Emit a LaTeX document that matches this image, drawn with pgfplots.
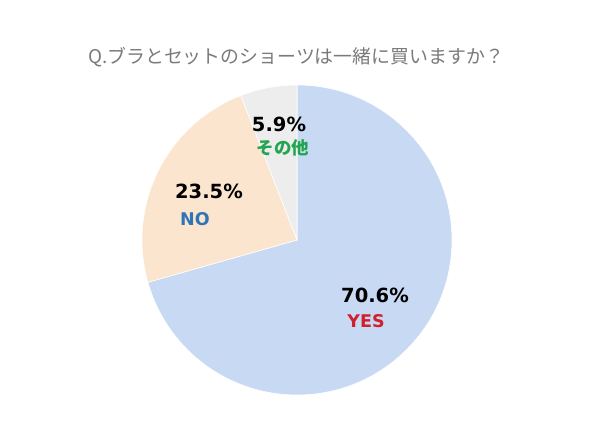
\documentclass[border=0pt]{standalone}
\usepackage{pgfplots}
\usepackage{pgfplotstable}
\pgfplotsset{compat=1.18}
\usepackage{fontspec}
\setmainfont{DejaVu Sans}
\newfontfamily\jp{Noto Sans CJK JP}
\definecolor{yesfill}{HTML}{C8D9F4}
\definecolor{nofill}{HTML}{FBE5CE}
\definecolor{othfill}{HTML}{EDEDED}
\definecolor{yestxt}{HTML}{D0202F}
\definecolor{notxt}{HTML}{2E75B6}
\definecolor{othtxt}{HTML}{22A550}
\definecolor{titletxt}{HTML}{7A7A7A}
\pgfplotstableread{
label value
YES 70.6
NO 23.5
other 5.9
}\piedata
\pgfkeys{/pgf/number format/assume math mode=true}
\begin{document}
\begin{tikzpicture}
\pgfplotstablegetelem{0}{value}\of\piedata \let\va\pgfplotsretval
\pgfplotstablegetelem{1}{value}\of\piedata \let\vb\pgfplotsretval
\pgfplotstablegetelem{2}{value}\of\piedata \let\vc\pgfplotsretval
\pgfmathsetmacro{\aA}{90}
\pgfmathsetmacro{\aB}{90-3.6*\va}
\pgfmathsetmacro{\aC}{\aB-3.6*\vb}
\pgfmathsetmacro{\aD}{\aC-3.6*\vc}
\begin{axis}[hide axis, x=1pt, y=1pt, xmin=0, xmax=600, ymin=0, ymax=426, clip=false]
\path[fill=white] (axis cs:0,0) rectangle (axis cs:600,426);
\fill[yesfill, draw=white, line width=0.6pt] (axis cs:297,186) -- ++(\aA:155pt) arc[start angle=\aA, end angle=\aB, radius=155pt] -- cycle;
\fill[nofill, draw=white, line width=0.6pt] (axis cs:297,186) -- ++(\aB:155pt) arc[start angle=\aB, end angle=\aC, radius=155pt] -- cycle;
\fill[othfill, draw=white, line width=0.6pt] (axis cs:297,186) -- ++(\aC:155pt) arc[start angle=\aC, end angle=\aD, radius=155pt] -- cycle;
\node[text=titletxt, font=\jp\fontsize{18.9}{21}\selectfont] at (axis cs:296,369) {Q.ブラとセットのショーツは一緒に買いますか？};
\node[font=\bfseries\fontsize{19.5}{22}\selectfont, text=black] at (axis cs:375,130.5) {\pgfmathprintnumber[fixed,precision=1,fixed zerofill,assume math mode=true]{\va}\%};
\node[font=\bfseries\fontsize{17.5}{20}\selectfont, text=yestxt] at (axis cs:366,104.5) {YES};
\node[font=\bfseries\fontsize{19.5}{22}\selectfont, text=black] at (axis cs:209,234.5) {\pgfmathprintnumber[fixed,precision=1,fixed zerofill,assume math mode=true]{\vb}\%};
\node[font=\bfseries\fontsize{17.5}{20}\selectfont, text=notxt] at (axis cs:195,206.5) {NO};
\node[font=\bfseries\fontsize{19.5}{22}\selectfont, text=black] at (axis cs:279,301.5) {\pgfmathprintnumber[fixed,precision=1,fixed zerofill,assume math mode=true]{\vc}\%};
\node[font=\jp\bfseries\fontsize{17.5}{20}\selectfont, text=othtxt] at (axis cs:283,278.5) {その他};
\end{axis}
\end{tikzpicture}
\end{document}
